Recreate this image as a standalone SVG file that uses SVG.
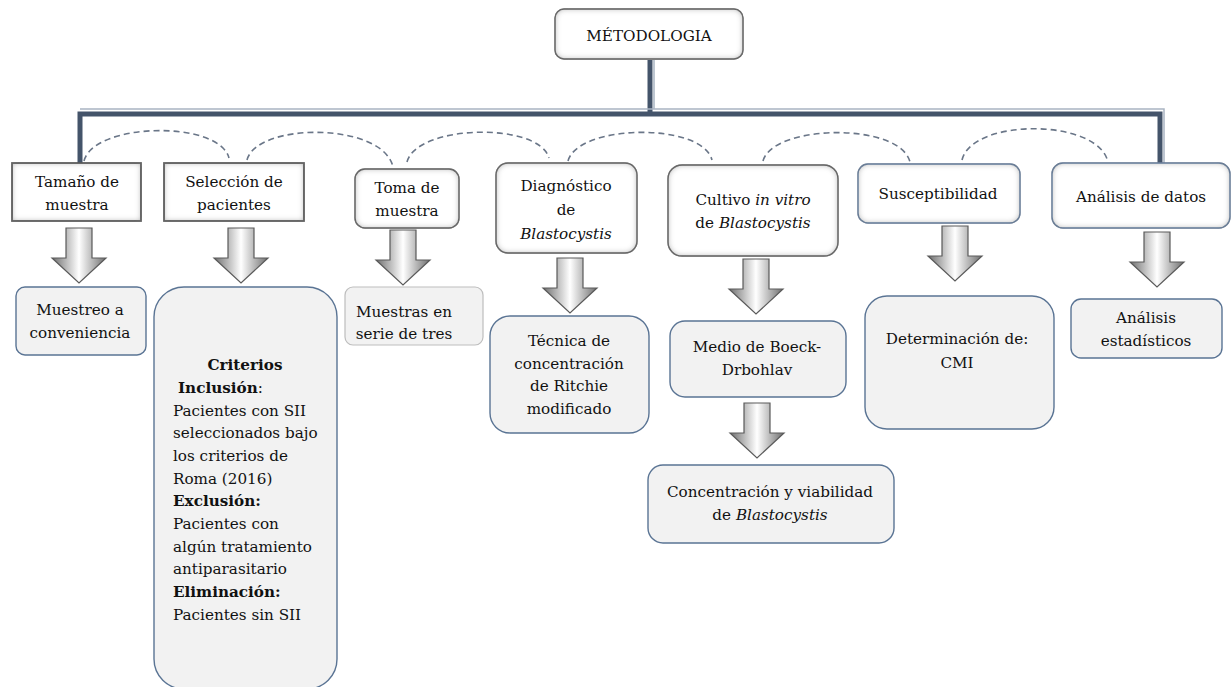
<svg xmlns="http://www.w3.org/2000/svg" width="1232" height="687" viewBox="0 0 1232 687">
<defs>
  <filter id="bevel" x="-5%" y="-10%" width="110%" height="120%">
    <feFlood flood-color="#7a7a7a" result="f"/>
    <feComposite in="f" in2="SourceAlpha" operator="out" result="o"/>
    <feGaussianBlur in="o" stdDeviation="3" result="b"/>
    <feComposite in="b" in2="SourceAlpha" operator="in" result="s"/>
    <feMerge><feMergeNode in="SourceGraphic"/><feMergeNode in="s"/></feMerge>
  </filter>
  <linearGradient id="arrowGrad" x1="0" y1="0" x2="1" y2="0">
    <stop offset="0" stop-color="#6e6e6e"/>
    <stop offset="0.5" stop-color="#ffffff"/>
    <stop offset="1" stop-color="#6e6e6e"/>
  </linearGradient>
  <path id="arr" d="M-13,0 H13 V30 H27 L0,55 L-27,30 H-13 Z"/>
</defs>
<style>
  text { font-family: "DejaVu Serif", "Liberation Serif", serif; font-size: 15.2px; fill: #111; text-anchor: middle; }
  .s { text-anchor: start; }
  .b { font-weight: bold; }
  .i { font-style: italic; }
  .l1a { fill: #fff; stroke: #333; stroke-width: 1.6; }
  .l1b { fill: #fff; stroke: #555; stroke-width: 1.4; }
  .l1c { fill: #fff; stroke: #5b7fa8; stroke-width: 1.4; }
  .l2 { fill: #f2f2f2; stroke: #5a7494; stroke-width: 1.4; }
  .l2g { fill: #f2f2f2; stroke: #bdbdbd; stroke-width: 1.2; }
  .arrow { fill: url(#arrowGrad); stroke: #5a5a5a; stroke-width: 1.2; }
  .dash { fill: none; stroke: #6a7688; stroke-width: 1.6; stroke-dasharray: 6 4; }
  .dark { fill: none; stroke: #44546a; stroke-width: 5; }
  .light { fill: none; stroke: #a9b4c2; stroke-width: 1.5; }
</style>

<g id="connectors">
  <path class="dark" d="M650,60 V113"/>
  <path class="light" d="M654,60 V109"/>
  <path class="dark" d="M80,163 V114 H1160 V163"/>
  <path class="light" d="M80,109 H1164 V163"/>
  <path class="dash" d="M84,161 C94,122 219,120 229,158"/>
  <path class="dash" d="M247,160 C257,122 383,122 393,167"/>
  <path class="dash" d="M407,162 C417,124 539,122 549,158"/>
  <path class="dash" d="M568,161 C578,124 702,122 712,160"/>
  <path class="dash" d="M763,161 C773,124 900,122 910,162"/>
  <path class="dash" d="M962,160 C972,118 1098,118 1108,162"/>
  <use href="#arr" class="arrow" x="79" y="228"/>
  <use href="#arr" class="arrow" x="241" y="228"/>
  <use href="#arr" class="arrow" x="403" y="230"/>
  <use href="#arr" class="arrow" x="570" y="258"/>
  <use href="#arr" class="arrow" x="756" y="259"/>
  <use href="#arr" class="arrow" x="757" y="403"/>
  <use href="#arr" class="arrow" x="955" y="226"/>
  <use href="#arr" class="arrow" x="1157" y="232"/>
</g>

<g id="metodologia">
  <rect class="l1b" x="555" y="9" width="188" height="50" rx="9" filter="url(#bevel)"/>
  <text x="649" y="41">MÉTODOLOGIA</text>
</g>

<g id="tamano">
  <rect class="l1a" x="12" y="163" width="129" height="58" filter="url(#bevel)"/>
  <text x="77" y="187">Tamaño de</text>
  <text x="77" y="210">muestra</text>
</g>
<g id="seleccion">
  <rect class="l1a" x="164" y="163" width="140" height="58" filter="url(#bevel)"/>
  <text x="234" y="187">Selección de</text>
  <text x="234" y="210">pacientes</text>
</g>
<g id="toma">
  <rect class="l1b" x="355" y="169" width="104" height="59" rx="10" filter="url(#bevel)"/>
  <text x="407" y="193">Toma de</text>
  <text x="407" y="216">muestra</text>
</g>
<g id="diagnostico">
  <rect class="l1b" x="496" y="163" width="141" height="90" rx="12" filter="url(#bevel)"/>
  <text x="566" y="191">Diagnóstico</text>
  <text x="566" y="215">de</text>
  <text x="566" y="239" class="i">Blastocystis</text>
</g>
<g id="cultivo">
  <rect class="l1b" x="668" y="165" width="170" height="91" rx="14" filter="url(#bevel)"/>
  <text x="753" y="205">Cultivo <tspan class="i">in vitro</tspan></text>
  <text x="753" y="228">de <tspan class="i">Blastocystis</tspan></text>
</g>
<g id="susceptibilidad">
  <rect class="l1c" x="858" y="164" width="162" height="59" rx="10" filter="url(#bevel)"/>
  <text x="938" y="199">Susceptibilidad</text>
</g>
<g id="analisis">
  <rect class="l1c" x="1052" y="163" width="178" height="65" rx="11" filter="url(#bevel)"/>
  <text x="1141" y="202">Análisis de datos</text>
</g>

<g id="muestreo">
  <rect class="l2" x="16" y="287" width="130" height="68" rx="9"/>
  <text x="80" y="315">Muestreo a</text>
  <text x="80" y="338">conveniencia</text>
</g>
<g id="criterios">
  <rect class="l2" x="154" y="287" width="183" height="402" rx="30"/>
  <text x="245" y="370" class="b">Criterios</text>
  <text x="178" y="393" class="s"><tspan class="b">Inclusión</tspan>:</text>
  <text x="173" y="416" class="s">Pacientes con SII</text>
  <text x="173" y="438" class="s">seleccionados bajo</text>
  <text x="173" y="461" class="s">los criterios de</text>
  <text x="173" y="484" class="s">Roma (2016)</text>
  <text x="173" y="506" class="s b">Exclusión:</text>
  <text x="173" y="529" class="s">Pacientes con</text>
  <text x="173" y="552" class="s">algún tratamiento</text>
  <text x="173" y="574" class="s">antiparasitario</text>
  <text x="173" y="597" class="s b">Eliminación:</text>
  <text x="173" y="620" class="s">Pacientes sin SII</text>
</g>
<g id="muestras">
  <rect class="l2g" x="345" y="287" width="138" height="58" rx="8"/>
  <text x="404" y="317">Muestras en</text>
  <text x="404" y="339">serie de tres</text>
</g>
<g id="tecnica">
  <rect class="l2" x="490" y="316" width="159" height="117" rx="20"/>
  <text x="569" y="346">Técnica de</text>
  <text x="569" y="369">concentración</text>
  <text x="569" y="391">de Ritchie</text>
  <text x="569" y="414">modificado</text>
</g>
<g id="medio">
  <rect class="l2" x="670" y="321" width="176" height="76" rx="15"/>
  <text x="757" y="352">Medio de Boeck-</text>
  <text x="757" y="375">Drbohlav</text>
</g>
<g id="concentracion">
  <rect class="l2" x="648" y="465" width="246" height="78" rx="15"/>
  <text x="770" y="497">Concentración y viabilidad</text>
  <text x="770" y="520">de <tspan class="i">Blastocystis</tspan></text>
</g>
<g id="determinacion">
  <rect class="l2" x="865" y="296" width="189" height="133" rx="22"/>
  <text x="957" y="344">Determinación de:</text>
  <text x="957" y="368">CMI</text>
</g>
<g id="estadisticos">
  <rect class="l2" x="1071" y="299" width="151" height="59" rx="10"/>
  <text x="1146" y="323">Análisis</text>
  <text x="1146" y="346">estadísticos</text>
</g>
</svg>
